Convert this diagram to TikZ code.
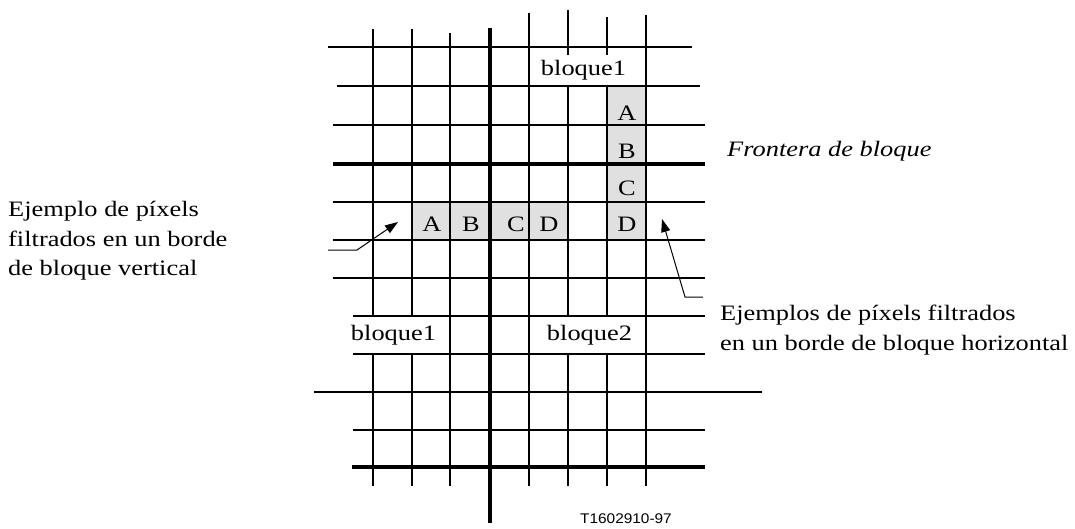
\documentclass[tikz,border=0pt]{standalone}
\usepackage{fontspec}
\setmainfont[FakeStretch=1.2]{Liberation Serif}
\newfontfamily\reffont[FakeStretch=1.1]{Liberation Sans}
\usepackage{tikz}
\usetikzlibrary{arrows.meta, positioning, calc}
\definecolor{cellgray}{RGB}{224,224,224}
\definecolor{mydark}{RGB}{0,0,0}
\tikzset{
  gridline/.style={line width=2.4pt, color=mydark},
  edgeline/.style={line width=4.2pt, color=mydark},
  cell/.style={fill=cellgray},
  pix/.style={font=\fontsize{22}{26}\selectfont, inner sep=0pt},
  blklabel/.style={fill=white, inner sep=0pt, minimum width=87pt,
    font=\fontsize{22}{26}\selectfont},
  note/.style={align=left, inner sep=0pt, font=\fontsize{22}{29.5}\selectfont},
  arrow/.style={-{Triangle[length=13pt, width=9pt]}, line width=1pt, color=mydark}
}

\begin{document}
\begin{tikzpicture}[x=1pt, y=-1pt]
  \useasboundingbox (0,0) rectangle (1075,529);
  % Filtered pixels
  \fill[cell] (412,202) rectangle (568,240);
  \fill[cell] (607,86) rectangle (646,240);
  % Vertical lines
  \foreach \x/\top in {373/29, 412/29, 450/33, 529/13, 568/10, 607/17, 646/15}
    \draw[gridline] (\x,\top) -- (\x,486);
  \draw[edgeline] (490,28) -- (490,523);
  % Block labels
  \node[blklabel, minimum height=31pt] (blk1top) at (583.5,70.5) {bloque1};
  \node[blklabel, minimum height=36pt] (blk1) at (393.5,335) {bloque1};
  \node[blklabel, minimum height=36pt] (blk2) at (589.5,335) {bloque2};
  % Horizontal lines
  \draw[gridline] (328,47) -- (692,47);
  \draw[gridline] (337,86) -- (700,86);
  \foreach \y in {125, 202, 240, 278}
    \draw[gridline] (333,\y) -- (705,\y);
  \foreach \y in {316, 354, 430}
    \draw[gridline] (353,\y) -- (705,\y);
  \draw[gridline] (314,392) -- (762,392);
  \draw[edgeline] (333,164) -- (705,164);
  \draw[edgeline] (352,467) -- (705,467);
  % Pixel letters
  \node[pix] (ha) at (432,224) {A};
  \node[pix] (hb) at (471,224) {B};
  \node[pix] (hc) at (516,224) {C};
  \node[pix] (hd) at (549,224) {D};
  \node[pix] (va) at (627,113) {A};
  \node[pix] (vb) at (627,151) {B};
  \node[pix] (vc) at (627,188) {C};
  \node[pix] (vd) at (627,224) {D};
  % Texts
  \node[note, anchor=west, font=\fontsize{22}{29}\selectfont\itshape] (front) at (727,151) {Frontera de bloque};
  \node[note, anchor=west] (vnote) at (8,241) {Ejemplo de píxels\\filtrados en un borde\\de bloque vertical};
  \node[note, anchor=west] (hnote) at (720,330) {Ejemplos de píxels filtrados\\en un borde de bloque horizontal};
  \node[font=\reffont\fontsize{14}{16}\selectfont, inner sep=0pt] (ref) at (626,519) {T1602910-97};
  % Arrows
  \coordinate (vstart) at (328,250);
  \coordinate (vbend) at (357,250);
  \coordinate (vtip) at (398,222);
  \coordinate (hstart) at (703,297);
  \coordinate (hbend) at (685,297);
  \coordinate (htip) at (662,219);
  \draw[arrow] (vstart) -- (vbend) -- (vtip);
  \draw[arrow] (hstart) -- (hbend) -- (htip);
\end{tikzpicture}
\end{document}
